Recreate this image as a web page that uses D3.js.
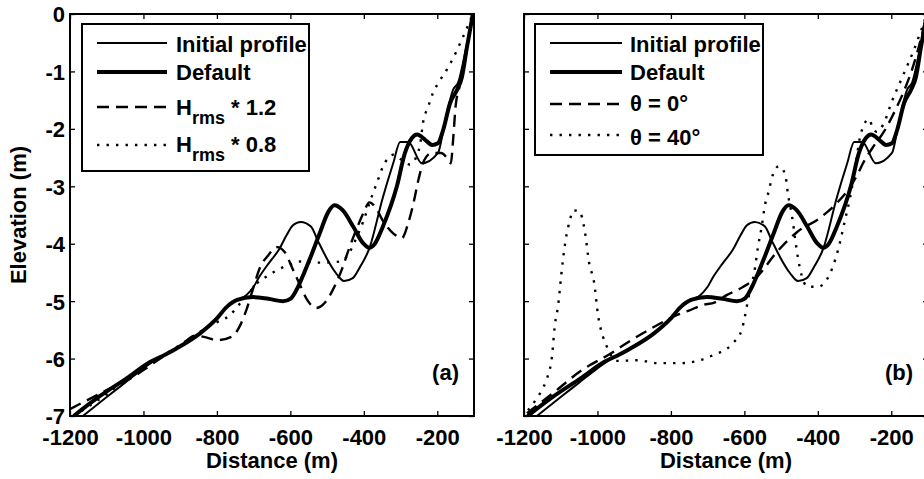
<!DOCTYPE html>
<html><head><meta charset="utf-8">
<script src="https://cdn.jsdelivr.net/npm/d3@7"></script>
<style>
body{margin:0;background:#fff;}
svg{display:block;font-family:Arial,"Liberation Sans",sans-serif;font-weight:bold;}
</style></head>
<body><svg id="c" width="924" height="479"></svg>
<script>
const xTicks = [-1200,-1000,-800,-600,-400,-200];
const yTicks = [0,-1,-2,-3,-4,-5,-6,-7];
const xDomain = [-1200,-100];
const yDomain = [-7,0];

const initialProfile = [[-1165,-7.0],[-1100,-6.67],[-1050,-6.42],[-1000,-6.17],[-966,-6.02],[-940,-5.93],[-909,-5.82],[-846,-5.56],[-800,-5.3],[-773,-5.1],[-745,-4.98],[-721,-4.9],[-700,-4.75],[-685,-4.58],[-660,-4.35],[-631,-4.1],[-610,-3.85],[-593,-3.68],[-572,-3.62],[-544,-3.7],[-525,-3.95],[-503,-4.23],[-476,-4.51],[-454,-4.65],[-430,-4.6],[-410,-4.4],[-386,-4.1],[-348,-3.19],[-320,-2.6],[-301,-2.23],[-279,-2.23],[-242,-2.6],[-198,-2.42],[-180,-1.9],[-157,-1.32],[-143,-1.19],[-125,-0.7],[-103,0]];
const defaultRun = [[-1190,-7.0],[-1120,-6.66],[-1045,-6.34],[-982,-6.06],[-940,-5.93],[-909,-5.82],[-846,-5.56],[-800,-5.3],[-773,-5.1],[-745,-4.98],[-702,-4.93],[-660,-4.96],[-620,-5.0],[-598,-4.95],[-579,-4.75],[-562,-4.5],[-546,-4.25],[-519,-3.8],[-497,-3.45],[-480,-3.33],[-457,-3.42],[-429,-3.7],[-402,-3.99],[-385,-4.07],[-370,-4.0],[-348,-3.7],[-310,-3.0],[-288,-2.42],[-269,-2.16],[-255,-2.1],[-233,-2.19],[-214,-2.28],[-198,-2.25],[-184,-2.02],[-165,-1.55],[-146,-1.32],[-133,-1.1],[-119,-0.57],[-103,0]];
const hrms12 = [[-1200,-6.88],[-1100,-6.55],[-1028,-6.32],[-1000,-6.2],[-950,-5.98],[-900,-5.78],[-860,-5.6],[-830,-5.63],[-800,-5.68],[-760,-5.62],[-735,-5.4],[-718,-5.12],[-700,-4.75],[-683,-4.42],[-660,-4.2],[-636,-4.06],[-615,-4.15],[-593,-4.45],[-575,-4.7],[-555,-4.97],[-530,-5.12],[-505,-5.02],[-484,-4.8],[-460,-4.45],[-440,-4.08],[-420,-3.75],[-400,-3.45],[-385,-3.28],[-370,-3.35],[-348,-3.6],[-320,-3.82],[-296,-3.9],[-280,-3.66],[-265,-3.3],[-250,-2.85],[-236,-2.55],[-215,-2.42],[-190,-2.42],[-172,-2.52],[-163,-2.6],[-157,-2.2],[-150,-1.6],[-140,-1.28],[-120,-0.6],[-103,0]];
const hrms08 = [[-1190,-7.0],[-1100,-6.62],[-1000,-6.14],[-930,-5.88],[-880,-5.68],[-838,-5.5],[-811,-5.4],[-764,-5.24],[-737,-5.04],[-711,-4.85],[-691,-4.69],[-664,-4.57],[-636,-4.46],[-600,-4.36],[-574,-4.31],[-519,-4.33],[-465,-4.31],[-438,-4.14],[-419,-3.88],[-402,-3.62],[-383,-3.26],[-365,-2.95],[-348,-2.66],[-320,-2.45],[-295,-2.55],[-275,-2.62],[-258,-2.5],[-245,-2.2],[-239,-1.9],[-225,-1.62],[-212,-1.38],[-193,-1.16],[-174,-0.97],[-157,-0.77],[-130,-0.4],[-103,0]];
const theta0 = [[-1192,-6.95],[-1121,-6.6],[-1042,-6.2],[-966,-5.92],[-903,-5.66],[-838,-5.42],[-783,-5.24],[-753,-5.17],[-715,-5.07],[-680,-5.02],[-647,-4.89],[-617,-4.8],[-566,-4.58],[-511,-4.14],[-457,-3.8],[-394,-3.55],[-348,-3.29],[-312,-3.01],[-290,-2.77],[-277,-2.6],[-250,-2.32],[-220,-2.05],[-185,-1.62],[-168,-1.38],[-140,-0.9],[-120,-0.45],[-103,0]];
const theta40 = [[-1189,-6.9],[-1165,-6.69],[-1148,-6.51],[-1137,-6.34],[-1124,-5.97],[-1116,-5.42],[-1107,-5.07],[-1098,-4.51],[-1087,-3.95],[-1075,-3.59],[-1066,-3.42],[-1050,-3.43],[-1034,-3.8],[-1023,-4.32],[-1009,-4.68],[-998,-5.26],[-985,-5.62],[-974,-5.8],[-949,-6.04],[-890,-6.03],[-835,-6.08],[-775,-6.08],[-685,-5.94],[-631,-5.73],[-607,-5.5],[-599,-5.28],[-590,-4.98],[-571,-4.42],[-563,-4.06],[-553,-3.71],[-544,-3.33],[-535,-3.12],[-522,-2.79],[-506,-2.65],[-489,-2.79],[-481,-3.15],[-470,-3.53],[-462,-3.9],[-454,-4.25],[-449,-4.42],[-427,-4.75],[-400,-4.75],[-376,-4.63],[-345,-4.11],[-326,-3.59],[-312,-3.19],[-299,-2.72],[-285,-2.14],[-277,-1.97],[-261,-1.83],[-250,-1.99],[-240,-2.05],[-220,-1.9],[-200,-1.55],[-170,-1.1],[-140,-0.65],[-103,0]];

const legendA = ["Initial profile","Default","H|rms| * 1.2","H|rms| * 0.8"];
const legendB = ["Initial profile","Default","θ = 0°","θ = 40°"];
const panelTags = ["(a)","(b)"];

const styles = {
  thin:{w:2,dash:null},
  thick:{w:4,dash:null},
  dash:{w:2.4,dash:"12,7"},
  dot:{w:2.4,dash:"2.4,7.1"}
};

const svg = d3.select("#c");
const yTop = 14, yBot = 416, pw = 404;
const fmt = d => String(d);
const panels = [
  {x0:70, series:[[initialProfile,"thin"],[defaultRun,"thick"],[hrms12,"dash"],[hrms08,"dot"]], legend:legendA, styleKeys:["thin","thick","dash","dot"], yLabels:true,
   box:{x:82,y:24,w:227,h:147}, rows:[43,72,107,145], base:[52,80,115,152], lx0:97, lx1:167, tx:176, tag:panelTags[0]},
  {x0:524, series:[[initialProfile,"thin"],[defaultRun,"thick"],[theta0,"dash"],[theta40,"dot"]], legend:legendB, styleKeys:["thin","thick","dash","dot"], yLabels:false,
   box:{x:535,y:24,w:228,h:131}, rows:[43,72,104,135], base:[52,80,111,145], lx0:550, lx1:622, tx:630, tag:panelTags[1]}
];

panels.forEach((p,i)=>{
  const x = d3.scaleLinear().domain(xDomain).range([p.x0,p.x0+pw]);
  const y = d3.scaleLinear().domain(yDomain).range([yBot,yTop]);
  const g = svg.append("g");
  const cid = "clip"+i;
  svg.append("clipPath").attr("id",cid).append("rect").attr("x",p.x0).attr("y",yTop).attr("width",pw).attr("height",yBot-yTop);
  const line = d3.line().x(d=>x(d[0])).y(d=>y(d[1])).curve(d3.curveMonotoneX);
  const lg = g.append("g").attr("clip-path","url(#"+cid+")");
  p.series.forEach(([data,key])=>{
    const s = styles[key];
    lg.append("path").attr("d",line(data)).attr("fill","none").attr("stroke","#000")
      .attr("stroke-width",s.w).attr("stroke-dasharray",s.dash).attr("stroke-linejoin","round");
  });
  const bAx = d3.axisBottom(x).tickValues(xTicks).tickSizeInner(-5).tickSizeOuter(0).tickPadding(13).tickFormat(fmt);
  const tAx = d3.axisTop(x).tickValues(xTicks).tickSizeInner(-5).tickSizeOuter(0).tickFormat("");
  const lAx = d3.axisLeft(y).tickValues(yTicks).tickSizeInner(-5).tickSizeOuter(0).tickPadding(5).tickFormat(p.yLabels ? fmt : "");
  const rAx = d3.axisRight(y).tickValues(yTicks).tickSizeInner(-5).tickSizeOuter(0).tickFormat("");
  const gb = g.append("g").attr("transform",`translate(0,${yBot})`).call(bAx);
  const gt = g.append("g").attr("transform",`translate(0,${yTop})`).call(tAx);
  const gl = g.append("g").attr("transform",`translate(${p.x0},0)`).call(lAx);
  const gr = g.append("g").attr("transform",`translate(${p.x0+pw},0)`).call(rAx);
  [gb,gt,gl,gr].forEach(a=>{
    a.selectAll(".domain").remove();
    a.selectAll(".tick line").attr("stroke","#000").attr("stroke-width",1.3);
    a.selectAll(".tick text").attr("font-size",22).attr("font-weight","bold").attr("fill","#000")
      .attr("font-family","Arial, 'Liberation Sans', sans-serif");
  });
  gl.selectAll(".tick text").attr("dy","0.36em");
  gb.selectAll(".tick text").attr("dy","0.71em");
  g.append("rect").attr("x",p.x0).attr("y",yTop).attr("width",pw).attr("height",yBot-yTop)
    .attr("fill","none").attr("stroke","#000").attr("stroke-width",2);
  g.append("text").attr("x",p.x0+pw/2).attr("y",468).attr("text-anchor","middle")
    .attr("font-size",22).text("Distance (m)");
  g.append("text").attr("x",p.x0+pw-15).attr("y",380).attr("text-anchor","end")
    .attr("font-size",22).text(p.tag);
  const b = p.box;
  g.append("rect").attr("x",b.x).attr("y",b.y).attr("width",b.w).attr("height",b.h)
    .attr("fill","#fff").attr("stroke","#000").attr("stroke-width",2);
  p.legend.forEach((lab,k)=>{
    const s = styles[p.styleKeys[k]];
    g.append("line").attr("x1",p.lx0).attr("x2",p.lx1).attr("y1",p.rows[k]).attr("y2",p.rows[k])
      .attr("stroke","#000").attr("stroke-width",s.w).attr("stroke-dasharray",s.dash);
    const t = g.append("text").attr("x",p.tx).attr("y",p.base[k]).attr("font-size",22);
    const parts = lab.split("|");
    if(parts.length===3){
      t.append("tspan").text(parts[0]);
      t.append("tspan").attr("font-size",18).attr("dy",9).text(parts[1]);
      t.append("tspan").attr("dy",-9).text(parts[2]);
    } else t.text(lab);
  });
});

svg.append("text").attr("transform","translate(26,215) rotate(-90)").attr("text-anchor","middle")
  .attr("font-size",22).text("Elevation (m)");
</script></body></html>
